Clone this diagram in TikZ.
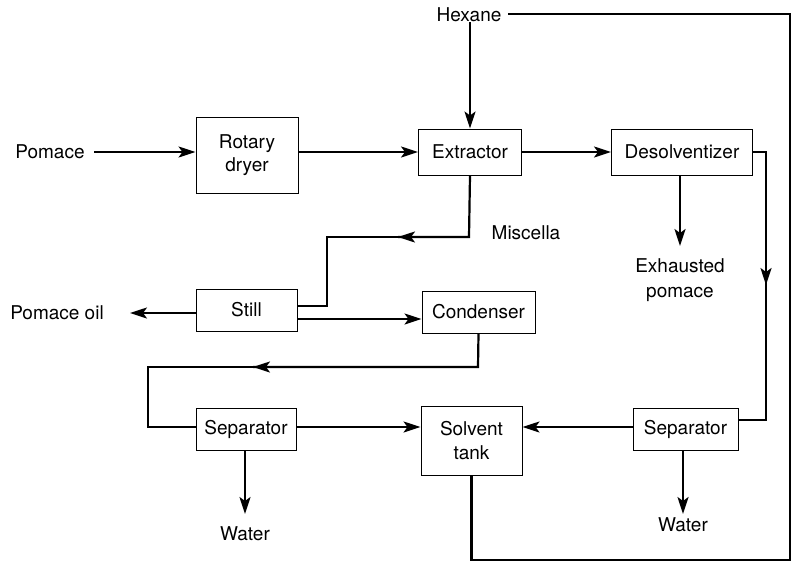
\documentclass[tikz,border=0pt]{standalone}
\usepackage{fontspec}
\setmainfont{TeX Gyre Heros}
\usetikzlibrary{arrows.meta}
\begin{document}
\begin{tikzpicture}[x=1pt,y=-1pt,
 box/.style={draw,line width=1pt,inner sep=0pt,align=center,font=\fontsize{19}{23.5}\selectfont},
 lbl/.style={inner sep=0pt,align=center,font=\fontsize{19}{24.5}\selectfont},
 flow/.style={line width=2.2pt},
 arr/.style={flow,-{Stealth[length=17pt,width=11pt,inset=4pt]}}]
\useasboundingbox (0,0) rectangle (795,562);
% boxes
\node[box,minimum width=102pt,minimum height=76pt] (dryer) at (247,155) {Rotary\\dryer};
\node[box,minimum width=103pt,minimum height=46pt] (ext) at (470,152) {Extractor};
\node[box,minimum width=141pt,minimum height=46pt] (des) at (682,152) {Desolventizer};
\node[box,minimum width=101pt,minimum height=42pt] (still) at (246.5,310) {Still};
\node[box,minimum width=113pt,minimum height=42pt] (cond) at (478.5,312) {Condenser};
\node[box,minimum width=100pt,minimum height=42pt] (sepL) at (246,429) {Separator};
\node[box,minimum width=101pt,minimum height=69pt] (tank) at (471.5,440.5) {Solvent\\tank};
\node[box,minimum width=105pt,minimum height=42pt] (sepR) at (685.5,429) {Separator};
% labels
\node[lbl] (pomace) at (50,152) {Pomace};
\node[lbl] (hex) at (469,15) {Hexane};
\node[lbl] (misc) at (526,233) {Miscella};
\node[lbl] (exh) at (680,280) {Exhausted\\pomace};
\node[lbl] (oil) at (57,313) {Pomace oil};
\node[lbl] (waterL) at (245,534) {Water};
\node[lbl] (waterR) at (683,525) {Water};
% coordinates
\coordinate (pomE) at (94,152);
\coordinate (hexE) at (508,14);
\coordinate (hexR) at (790,14);
\coordinate (hexB) at (790,560);
\coordinate (desR) at (766,152);
\coordinate (desArr) at (766,285);
\coordinate (desLow) at (766,420);
\coordinate (misA) at (469,237);
\coordinate (misArr) at (398,237);
\coordinate (misB) at (327,237);
\coordinate (misC) at (327,306);
\coordinate (stillOut) at (297,319);
\coordinate (oilE) at (130,313);
\coordinate (condA) at (478,367);
\coordinate (condArr) at (253,367);
\coordinate (condB) at (148,367);
\coordinate (condC) at (148,427);
\coordinate (exhN) at (680,246);
\coordinate (wLN) at (245,514);
\coordinate (wRN) at (683,514);
% connectors
\draw[arr] (pomE) -- (pomE -| dryer.west);
\draw[arr] (dryer.east |- ext) -- (ext.west);
\draw[arr] (hex.south -| ext.north) -- (ext.north);
\draw[flow] (hexE) -- (hexR) -- (hexB) -| (tank.south);
\draw[arr] (ext.east) -- (des.west);
\draw[flow] (des.east) -- (desR) -- (desArr);
\draw[arr] (desR) -- (desArr);
\draw[flow] (desArr) -- (desLow) -- (desLow -| sepR.east);
\draw[arr] (des.south -| exhN) -- (exhN);
\draw[flow] (ext.south) -- (misA) -- (misArr);
\draw[arr] (misA) -- (misArr);
\draw[flow] (misArr) -- (misB) -- (misC) -- (misC -| still.east);
\draw[arr] (still.west |- oilE) -- (oilE);
\draw[arr] (stillOut) -- (stillOut -| cond.west);
\draw[flow] (cond.south) -- (condA) -- (condArr);
\draw[arr] (condA) -- (condArr);
\draw[flow] (condArr) -- (condB) -- (condC) -- (condC -| sepL.west);
\draw[arr] (sepL.east |- condC) -- (condC -| tank.west);
\draw[arr] (sepR.west |- condC) -- (condC -| tank.east);
\draw[arr] (sepL.south -| wLN) -- (wLN);
\draw[arr] (sepR.south -| wRN) -- (wRN);
\end{tikzpicture}
\end{document}
